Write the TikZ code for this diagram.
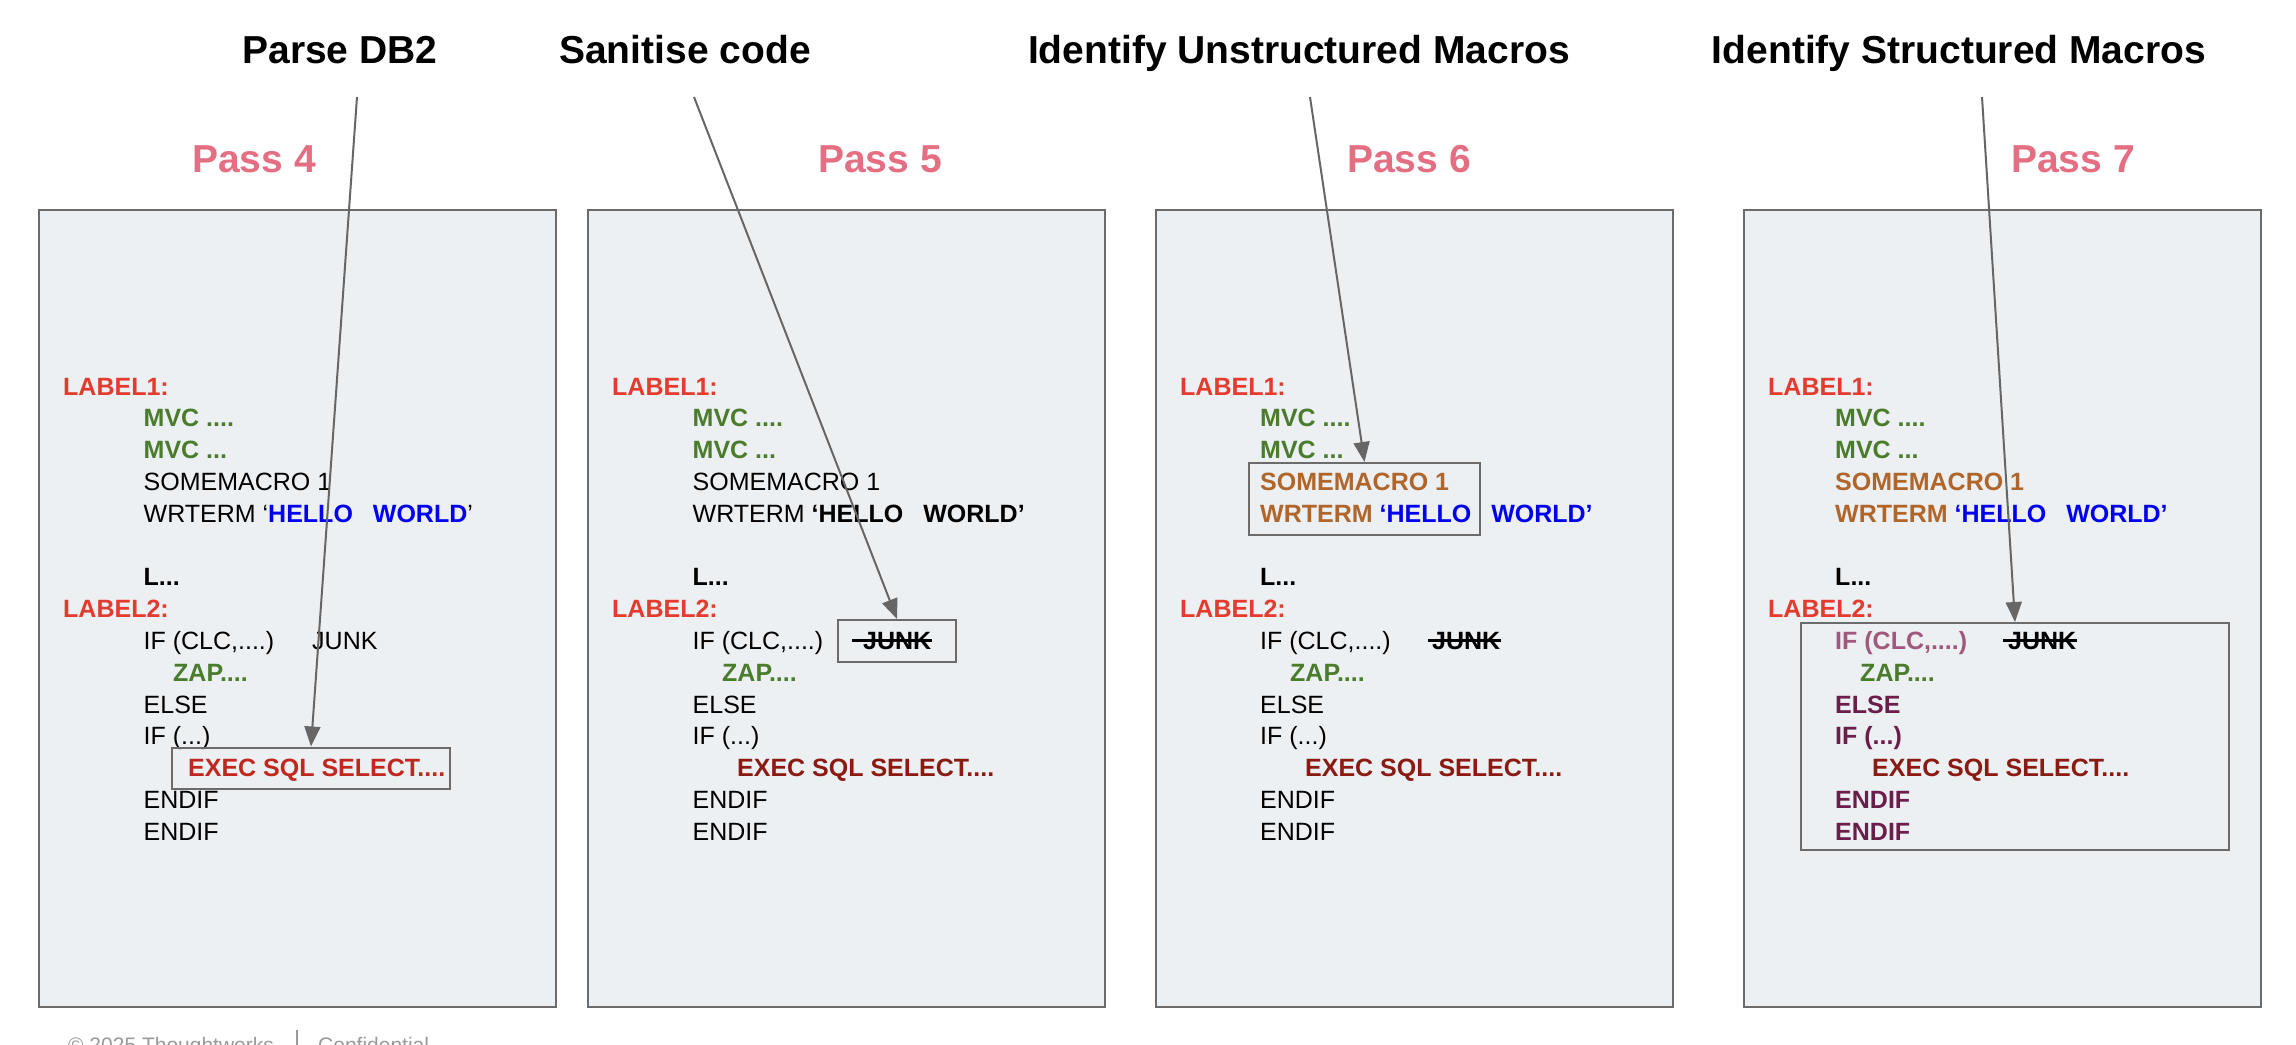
\documentclass[tikz,border=0pt]{standalone}
\usepackage{fontspec}
\setmainfont{Liberation Sans}
\usetikzlibrary{arrows.meta}
\definecolor{panelfill}{HTML}{ECF0F3}
\definecolor{bordergray}{HTML}{6B6B6B}
\definecolor{arrowgray}{HTML}{666666}
\definecolor{passpink}{HTML}{E46F83}
\definecolor{lblred}{HTML}{E53A2E}
\definecolor{mvcgreen}{HTML}{4A7C2C}
\definecolor{hwblue}{HTML}{0000EE}
\definecolor{macbrown}{HTML}{B0652A}
\definecolor{execred}{HTML}{C0281F}
\definecolor{execdark}{HTML}{8B1A12}
\definecolor{mauve}{HTML}{A0587C}
\definecolor{plum}{HTML}{6B1E4A}
\definecolor{footgray}{HTML}{9A9A9A}
\newcommand\codefnt{\fontsize{25pt}{30pt}\selectfont}
\newcommand\titlefnt{\fontsize{39pt}{46pt}\selectfont\bfseries}
\newcommand\footfnt{\fontsize{21pt}{25pt}\selectfont}
\tikzset{
  code/.style={anchor=base west, inner sep=0pt, font=\codefnt},
  panel/.style={draw=bordergray, fill=panelfill, line width=2pt, minimum width=517pt, minimum height=797pt, anchor=north west, inner sep=0pt},
  hl/.style={draw=bordergray, line width=2pt, anchor=north west, inner sep=0pt},
  arr/.style={draw=arrowgray, line width=2pt, -{Triangle[length=20pt,width=16pt]}},
  ttl/.style={font=\titlefnt, anchor=base, inner sep=0pt},
  passlbl/.style={font=\titlefnt, text=passpink, anchor=base, inner sep=0pt},
  strike/.style={draw=black, line width=2.4pt},
  foot/.style={font=\footfnt, text=footgray, anchor=base west, inner sep=0pt},
}
\begin{document}
\begin{tikzpicture}[x=1pt,y=-1pt]
\useasboundingbox (0,0) rectangle (2296,1044);
\fill[white] (0,0) rectangle (2296,1044);
\clip (0,0) rectangle (2296,1044);

% titles
\node[ttl] (t1) at (340,63) {Parse DB2};
\node[ttl] (t2) at (685,63) {Sanitise code};
\node[ttl] (t3) at (1299,63) {Identify Unstructured Macros};
\node[ttl] (t4) at (1959,63) {Identify Structured Macros};

% pass labels
\node[passlbl] (p1) at (254,172) {Pass 4};
\node[passlbl] (p2) at (880,172) {Pass 5};
\node[passlbl] (p3) at (1409,172) {Pass 6};
\node[passlbl] (p4) at (2073,172) {Pass 7};

% panels
\node[panel] (b1) at (38,209) {};
\node[panel] (b2) at (587,209) {};
\node[panel] (b3) at (1155,209) {};
\node[panel] (b4) at (1743,209) {};

% ---------- Pass 4 ----------
\node[code, text=lblred, font=\codefnt\bfseries] (a0) at (63,395) {LABEL1:};
\node[code, text=mvcgreen, font=\codefnt\bfseries] (a1) at (143.5,426.8) {MVC ....};
\node[code, text=mvcgreen, font=\codefnt\bfseries] (a2) at (143.5,458.6) {MVC ...};
\node[code] (a3) at (143.5,490.4) {SOMEMACRO 1};
\node[code] (a4) at (143.5,522.2) {WRTERM ‘\textbf{\textcolor{hwblue}{HELLO}\hspace{20pt}\textcolor{hwblue}{WORLD}}’};
\node[code, font=\codefnt\bfseries] (a6) at (143.5,585.8) {L...};
\node[code, text=lblred, font=\codefnt\bfseries] (a7) at (63,617.6) {LABEL2:};
\node[code] (a8) at (143.5,649.4) {IF (CLC,....)};
\node[code] (j1) at (312,649.4) {JUNK};
\node[code, text=mvcgreen, font=\codefnt\bfseries] (a9) at (173,681.2) {ZAP....};
\node[code] (a10) at (143.5,713) {ELSE};
\node[code] (a11) at (143.5,744.8) {IF (...)};
\node[code, text=execred, font=\codefnt\bfseries] (a12) at (188,776.6) {EXEC SQL SELECT....};
\node[code] (a13) at (143.5,808.4) {ENDIF};
\node[code] (a14) at (143.5,840.2) {ENDIF};
\node[hl, minimum width=278pt, minimum height=41pt] (exbox) at (171,746.5) {};

% ---------- Pass 5 ----------
\node[code, text=lblred, font=\codefnt\bfseries] (c0) at (612,395) {LABEL1:};
\node[code, text=mvcgreen, font=\codefnt\bfseries] (c1) at (692.5,426.8) {MVC ....};
\node[code, text=mvcgreen, font=\codefnt\bfseries] (c2) at (692.5,458.6) {MVC ...};
\node[code] (c3) at (692.5,490.4) {SOMEMACRO 1};
\node[code] (c4) at (692.5,522.2) {WRTERM \textbf{‘HELLO\hspace{20pt}WORLD’}};
\node[code, font=\codefnt\bfseries] (c6) at (692.5,585.8) {L...};
\node[code, text=lblred, font=\codefnt\bfseries] (c7) at (612,617.6) {LABEL2:};
\node[code] (c8) at (692.5,649.4) {IF (CLC,....)};
\node[code, font=\codefnt\bfseries] (j2) at (863,649.4) {JUNK};
\node[code, text=mvcgreen, font=\codefnt\bfseries] (c9) at (722,681.2) {ZAP....};
\node[code] (c10) at (692.5,713) {ELSE};
\node[code] (c11) at (692.5,744.8) {IF (...)};
\node[code, text=execdark, font=\codefnt\bfseries] (c12) at (737,776.6) {EXEC SQL SELECT....};
\node[code] (c13) at (692.5,808.4) {ENDIF};
\node[code] (c14) at (692.5,840.2) {ENDIF};
\node[hl, minimum width=118pt, minimum height=42pt] (jbox) at (837,619) {};
\draw[strike] ([xshift=-11pt,yshift=9pt]j2.base west) -- ([xshift=1pt,yshift=9pt]j2.base east);

% ---------- Pass 6 ----------
\node[code, text=lblred, font=\codefnt\bfseries] (d0) at (1180,395) {LABEL1:};
\node[code, text=mvcgreen, font=\codefnt\bfseries] (d1) at (1260,426.8) {MVC ....};
\node[code, text=mvcgreen, font=\codefnt\bfseries] (d2) at (1260,458.6) {MVC ...};
\node[code, text=macbrown, font=\codefnt\bfseries] (d3) at (1260,490.4) {SOMEMACRO 1};
\node[code, font=\codefnt\bfseries] (d4) at (1260,522.2) {\textcolor{macbrown}{WRTERM} \textcolor{hwblue}{‘HELLO\hspace{20pt}WORLD’}};
\node[code, font=\codefnt\bfseries] (d6) at (1260,585.8) {L...};
\node[code, text=lblred, font=\codefnt\bfseries] (d7) at (1180,617.6) {LABEL2:};
\node[code] (d8) at (1260,649.4) {IF (CLC,....)};
\node[code, font=\codefnt\bfseries] (j3) at (1432,649.4) {JUNK};
\node[code, text=mvcgreen, font=\codefnt\bfseries] (d9) at (1290,681.2) {ZAP....};
\node[code] (d10) at (1260,713) {ELSE};
\node[code] (d11) at (1260,744.8) {IF (...)};
\node[code, text=execdark, font=\codefnt\bfseries] (d12) at (1305,776.6) {EXEC SQL SELECT....};
\node[code] (d13) at (1260,808.4) {ENDIF};
\node[code] (d14) at (1260,840.2) {ENDIF};
\node[hl, minimum width=231pt, minimum height=72pt] (mbox) at (1248,462) {};
\draw[strike] ([xshift=-4pt,yshift=9pt]j3.base west) -- ([xshift=1pt,yshift=9pt]j3.base east);

% ---------- Pass 7 ----------
\node[code, text=lblred, font=\codefnt\bfseries] (e0) at (1768,395) {LABEL1:};
\node[code, text=mvcgreen, font=\codefnt\bfseries] (e1) at (1835,426.8) {MVC ....};
\node[code, text=mvcgreen, font=\codefnt\bfseries] (e2) at (1835,458.6) {MVC ...};
\node[code, text=macbrown, font=\codefnt\bfseries] (e3) at (1835,490.4) {SOMEMACRO 1};
\node[code, font=\codefnt\bfseries] (e4) at (1835,522.2) {\textcolor{macbrown}{WRTERM} \textcolor{hwblue}{‘HELLO\hspace{20pt}WORLD’}};
\node[code, font=\codefnt\bfseries] (e6) at (1835,585.8) {L...};
\node[code, text=lblred, font=\codefnt\bfseries] (e7) at (1768,617.6) {LABEL2:};
\node[code, text=mauve, font=\codefnt\bfseries] (e8) at (1835,649.4) {IF (CLC,....)};
\node[code, font=\codefnt\bfseries] (j4) at (2008,649.4) {JUNK};
\node[code, text=mvcgreen, font=\codefnt\bfseries] (e9) at (1860,681.2) {ZAP....};
\node[code, text=plum, font=\codefnt\bfseries] (e10) at (1835,713) {ELSE};
\node[code, text=plum, font=\codefnt\bfseries] (e11) at (1835,744.8) {IF (...)};
\node[code, text=execdark, font=\codefnt\bfseries] (e12) at (1872,776.6) {EXEC SQL SELECT....};
\node[code, text=plum, font=\codefnt\bfseries] (e13) at (1835,808.4) {ENDIF};
\node[code, text=plum, font=\codefnt\bfseries] (e14) at (1835,840.2) {ENDIF};
\node[hl, minimum width=428pt, minimum height=227pt] (sbox) at (1800,622) {};
\draw[strike] ([xshift=-5pt,yshift=9pt]j4.base west) -- ([xshift=1pt,yshift=9pt]j4.base east);

% arrows
\coordinate (s1) at (357,97);
\coordinate (s2) at (694,97);
\coordinate (s3) at (1310,97);
\coordinate (s4) at (1982,97);
\draw[arr] (s1) -- (exbox.north);
\draw[arr] (s2) -- (jbox.north);
\draw[arr] (s3) -- (mbox.north);
\draw[arr] (s4) -- (sbox.north);

% footer
\node[foot] (f1) at (68,1052) {© 2025 Thoughtworks};
\coordinate (fs1) at (297,1030);
\coordinate (fs2) at (297,1060);
\draw[footgray, line width=1.5pt] (fs1) -- (fs2);
\node[foot] (f2) at (318,1052) {Confidential};
\end{tikzpicture}
\end{document}
